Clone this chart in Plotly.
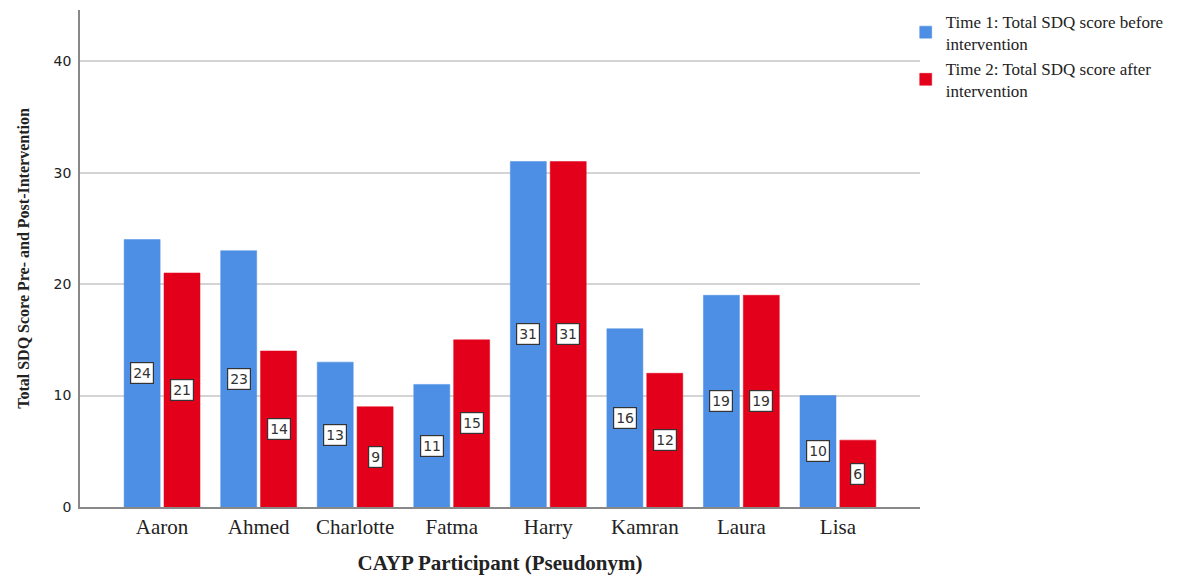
import plotly.graph_objects as go

participants = ["Aaron", "Ahmed", "Charlotte", "Fatma", "Harry", "Kamran", "Laura", "Lisa"]
time1_scores = [24, 23, 13, 11, 31, 16, 19, 10]
time2_scores = [21, 14, 9, 15, 31, 12, 19, 6]
series_names = [
    "Time 1: Total SDQ score before<br>intervention",
    "Time 2: Total SDQ score after<br>intervention",
]
y_ticks = [0, 10, 20, 30, 40]

BLUE = "#4d8fe4"
RED = "#e3001b"
BAR_W = 0.373
OFFSETS = [-0.393, 0.02]

fig = go.Figure()
for name, vals, col, off in zip(series_names, [time1_scores, time2_scores], [BLUE, RED], OFFSETS):
    fig.add_trace(go.Bar(
        x=participants, y=vals, name=name,
        width=BAR_W, offset=off,
        marker=dict(color=col, line=dict(color=col, width=0.5)),
    ))

# value labels boxed at the middle of each bar
for vals, off in zip([time1_scores, time2_scores], OFFSETS):
    for i, v in enumerate(vals):
        fig.add_annotation(
            x=i + off + BAR_W / 2, y=v / 2, xref="x", yref="y",
            text=str(v), showarrow=False,
            font=dict(family="DejaVu Sans", size=14, color="#333333"),
            bgcolor="white", bordercolor="#333333", borderwidth=1.2, borderpad=2,
        )

fig.update_layout(
    width=1200, height=575,
    margin=dict(l=80, r=280, t=10, b=68, autoexpand=False),
    paper_bgcolor="white", plot_bgcolor="white",
    showlegend=True,
    legend=dict(
        x=0.983, xanchor="left", y=1.013, yanchor="top",
        font=dict(family="Liberation Serif", size=17, color="#222222"),
        tracegroupgap=0, itemwidth=30,
        bgcolor="rgba(0,0,0,0)",
    ),
    xaxis=dict(
        type="category", range=[-0.85, 7.85], automargin=False,
        showgrid=False, showline=True, linecolor="#888888", linewidth=1.5,
        ticks="", tickfont=dict(family="Liberation Serif", size=21, color="#222222"),
        title=dict(text="<b>CAYP Participant (Pseudonym)</b>",
                   font=dict(family="Liberation Serif", size=21, color="#222222"),
                   standoff=17),
    ),
    yaxis=dict(
        range=[0, 44.6], tickvals=y_ticks, automargin=False,
        showgrid=True, gridcolor="#d4d4d4", gridwidth=1.5,
        showline=True, linecolor="#888888", linewidth=1.5,
        zeroline=False, ticks="", ticklabelstandoff=4,
        tickfont=dict(family="DejaVu Sans", size=14, color="#222222"),
        title=dict(text="<b>Total SDQ Score Pre- and Post-Intervention</b>",
                   font=dict(family="Liberation Serif", size=16, color="#222222"),
                   standoff=20),
    ),
)

fig.write_html("out.html")
